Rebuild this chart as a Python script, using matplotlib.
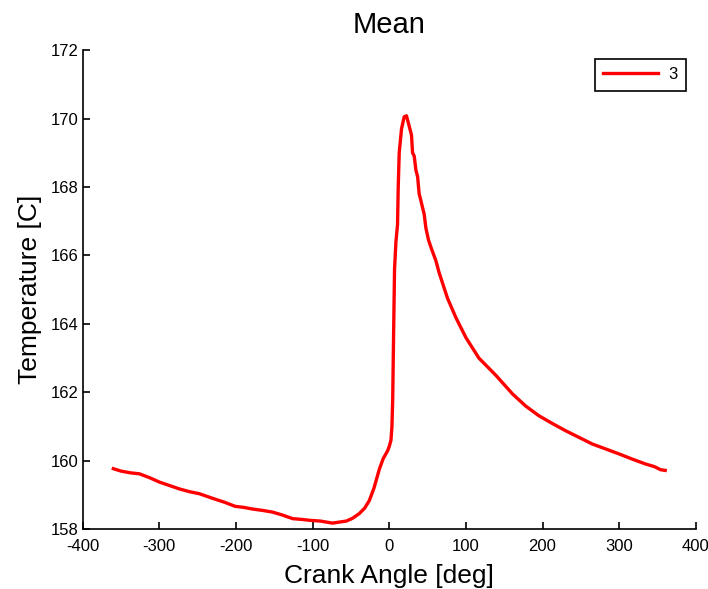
# Mean temperature vs crank angle
import numpy as np
import matplotlib
matplotlib.use('Agg')
import matplotlib.pyplot as plt

# Data
crank_angle = [-360, -350, -338, -326, -312, -300, -287, -274, -261, -248,
               -230, -215, -201, -190, -178, -165, -152, -140, -126, -115,
               -103, -90, -74, -65, -56, -48, -39, -32, -26, -20,
               -13, -8, -4, -2, 0, 2.2, 3.5, 4.5, 5.6, 6.9,
               8.7, 10.8, 11.7, 13, 16, 19.5, 22.5, 24, 26, 29,
               30.4, 32.6, 34.7, 37, 39, 41.3, 43.4, 45.6, 47.8, 51.2,
               55, 60.8, 65, 69.4, 76, 87, 100, 117, 139, 161,
               178, 195, 212, 230, 248, 265, 282, 300, 317, 334,
               346, 354, 360]
temperature = [159.77, 159.70, 159.65, 159.62, 159.50, 159.38, 159.28, 159.18, 159.10, 159.04,
               158.90, 158.79, 158.67, 158.64, 158.59, 158.55, 158.50, 158.42, 158.31, 158.29,
               158.26, 158.24, 158.18, 158.21, 158.24, 158.32, 158.46, 158.62, 158.84, 159.20,
               159.75, 160.06, 160.22, 160.30, 160.42, 160.60, 161.00, 161.80, 163.60, 165.60,
               166.40, 166.90, 168.00, 169.00, 169.70, 170.05, 170.08, 169.95, 169.78, 169.52,
               169.00, 168.90, 168.50, 168.30, 167.80, 167.60, 167.40, 167.20, 166.80, 166.45,
               166.20, 165.85, 165.50, 165.20, 164.75, 164.18, 163.60, 163.00, 162.50, 161.95,
               161.60, 161.32, 161.10, 160.88, 160.68, 160.49, 160.35, 160.20, 160.05, 159.91,
               159.83, 159.74, 159.72]
series_label = '3'

x_ticks = np.arange(-400, 401, 100)
y_ticks = np.arange(158, 173, 2)

plt.rcParams['font.family'] = ['Liberation Sans', 'DejaVu Sans']
plt.rcParams['axes.unicode_minus'] = False  # plain hyphen like MATLAB

fig = plt.figure(figsize=(7.08, 5.89), dpi=100)
ax = fig.add_axes([0.1168, 0.1014, 0.866, 0.8136])

ax.plot(crank_angle, temperature, color='red', linewidth=2.4, label=series_label)

# MATLAB look: box off, ticks pointing inwards
ax.set_xlim(-400, 400)
ax.set_ylim(158, 172)
ax.set_xticks(x_ticks)
ax.set_yticks(y_ticks)
ax.spines['top'].set_visible(False)
ax.spines['right'].set_visible(False)
ax.spines['left'].set_linewidth(1.2)
ax.spines['bottom'].set_linewidth(1.2)
ax.tick_params(direction='in', length=5, width=1.2, labelsize=12)
ax.tick_params(axis='x', pad=7)
ax.tick_params(axis='y', pad=3)

ax.set_title('Mean', fontsize=21, pad=12)
ax.set_xlabel('Crank Angle [deg]', fontsize=19, labelpad=7)
ax.set_ylabel('Temperature [C]', fontsize=19, labelpad=6)

leg = ax.legend(loc='upper right', bbox_to_anchor=(0.969, 0.900),
                bbox_transform=fig.transFigure, fontsize=12, fancybox=False,
                handlelength=3.3, borderpad=0.5, handletextpad=0.6,
                borderaxespad=0, framealpha=1)
leg.get_frame().set_edgecolor('black')
leg.get_frame().set_linewidth(1.2)

fig.savefig('out.png', dpi=100)
